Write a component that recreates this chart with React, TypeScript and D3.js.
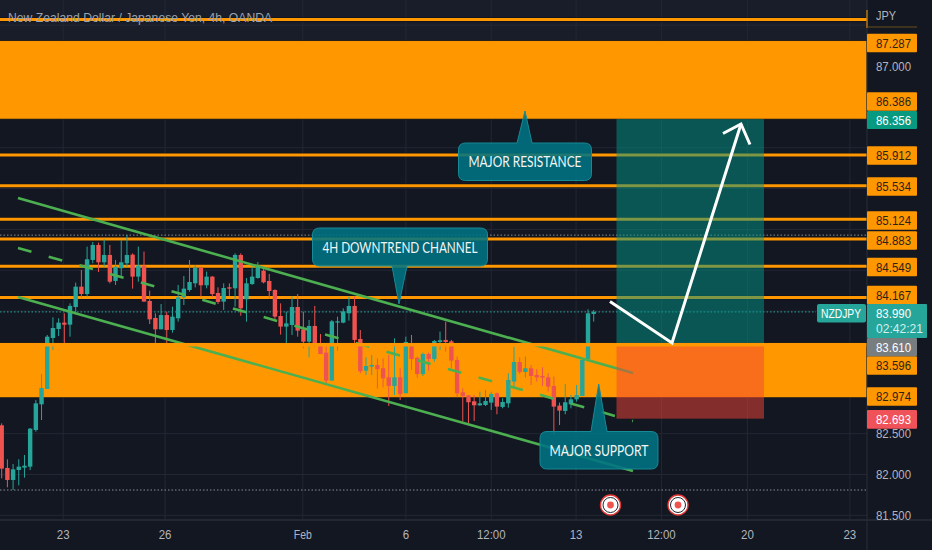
import React from 'react';
import * as d3 from 'd3';

const W = 932, H = 550, AX = 867, AY = 520;
const candles: number[][] = [
[82.602,82.626,81.953,82.072],[82.08,82.186,81.843,81.933],[81.933,82.129,81.81,82.063],[82.055,82.186,81.868,82.096],[82.084,82.239,81.961,82.108],
[82.096,82.569,82.055,82.561],[82.545,82.912,82.524,82.871],[82.859,83.23,82.667,83.059],[83.047,83.708,83.047,83.687],[83.671,83.924,83.524,83.793],
[83.781,83.912,83.695,83.859],[83.859,83.973,83.606,83.834],[83.834,84.095,83.687,84.063],[84.05,84.348,83.981,84.299],[84.299,84.503,84.169,84.209],
[84.209,84.789,84.177,84.634],[84.626,84.846,84.585,84.809],[84.809,84.838,84.479,84.597],[84.597,84.879,84.544,84.687],[84.687,84.809,84.34,84.36],
[84.369,84.626,84.32,84.544],[84.524,84.87,84.43,84.597],[84.585,84.932,84.544,84.687],[84.691,84.707,84.275,84.422],[84.422,84.789,84.36,84.556],
[84.556,84.728,84.116,84.116],[84.124,84.25,83.842,83.899],[83.916,83.973,83.606,83.777],[83.777,84.087,83.777,83.952],[83.952,83.993,83.606,83.769],
[83.769,84.054,83.736,83.932],[83.912,84.32,83.871,84.169],[84.169,84.43,84.075,84.275],[84.258,84.626,84.238,84.356],[84.34,84.564,84.291,84.532],
[84.528,84.544,84.177,84.316],[84.316,84.483,84.279,84.422],[84.422,84.43,84.169,84.209],[84.222,84.291,84.087,84.112],[84.116,84.34,84.014,84.283],
[84.291,84.34,84.185,84.275],[84.279,84.707,84.054,84.687],[84.687,84.707,83.944,84.034],[84.144,84.405,83.871,84.34],[84.332,84.544,84.32,84.422],
[84.405,84.601,84.397,84.544],[84.495,84.524,84.34,84.352],[84.369,84.454,84.156,84.246],[84.258,84.267,83.899,83.932],[83.94,84.095,83.712,83.81],
[83.81,83.993,83.606,83.85],[83.83,84.177,83.708,84.05],[84.05,84.209,83.687,83.761],[83.777,83.993,83.545,83.626],[83.626,83.891,83.434,83.818],
[83.818,84.063,83.565,83.606],[83.585,83.72,83.475,83.475],[83.492,83.585,83.116,83.149],[83.149,83.891,83.149,83.875],[83.859,83.932,83.516,83.875],
[83.859,84.034,83.851,83.997],[83.973,84.177,83.883,84.063],[84.063,84.177,83.606,83.647],[83.659,83.769,83.239,83.263],[83.271,83.434,83.218,83.328],
[83.32,83.463,83.218,83.341],[83.341,83.422,83.051,83.288],[83.3,83.422,83.067,83.177],[83.19,83.463,82.839,83.084],[83.084,83.667,82.973,83.19],
[83.19,83.3,82.912,82.986],[82.994,83.687,82.994,83.622],[83.573,83.708,83.279,83.414],[83.43,83.443,83.186,83.23],[83.23,83.492,83.206,83.475],
[83.475,83.492,83.271,83.414],[83.414,83.647,83.381,83.634],[83.622,83.749,83.524,83.643],[83.647,83.871,83.504,83.622],[83.63,83.647,83.3,83.394],
[83.402,83.443,82.945,82.994],[83.006,83.055,82.647,82.961],[82.969,82.973,82.627,82.884],[82.896,82.973,82.655,82.847],[82.847,83.014,82.839,82.871],
[82.851,83.035,82.839,82.9],[82.88,83.014,82.79,82.986],[82.994,83.002,82.737,82.831],[82.827,82.933,82.81,82.888],[82.871,83.239,82.818,83.157],
[83.137,83.565,83.055,83.377],[83.377,83.434,83.23,83.255],[83.255,83.443,83.186,83.3],[83.3,83.341,83.096,83.206],[83.218,83.288,83.137,83.19],
[83.206,83.312,83.084,83.186],[83.19,83.239,83.014,83.075],[83.084,83.198,82.484,82.831],[82.843,82.88,82.606,82.782],[82.778,83.108,82.737,82.884],
[82.859,82.973,82.81,82.92],[82.92,83.096,82.892,82.973],[82.961,83.402,82.961,83.402],[83.41,84.022,83.41,83.973],[83.965,84.014,83.871,83.99],
];
const priceTicks = [87.5, 87, 86.5, 86, 85.5, 85, 84.5, 84, 83.5, 83, 82.5, 82, 81.5];
const shownPriceLabels = [87, 82.5, 82, 81.5];
const timeTicks: [number, string][] = [[10.8,'23'],[28.7,'26'],[52.9,'Feb'],[71,'6'],[86,'12:00'],[100.9,'13'],[115.9,'12:00'],[131,'20'],[149,'23']];
const levelLines = [87.57, 85.912, 85.534, 85.124, 84.883, 84.549, 84.167];
const zones: [number, number][] = [[87.31, 86.35], [83.61, 82.94]];
const levelLabels: [string, number][] = [['87.287',43],['86.386',101.5],['85.912',155.5],['85.534',186.5],['85.124',220.5],['84.883',240.5],['84.549',267],['84.167',295],['83.596',365.5],['82.974',396.5]];
const dotted = [84.93, 81.81];
const lastPrice = 83.99;
const channels: [number, number, number, number][] = [[2.86, 85.384, 110.9, 83.242],[2.86, 84.173, 110.9, 82.043]];
const midChannel: [number, number, number, number] = [2.86, 84.772, 110.9, 82.655];

const y = d3.scaleLinear().domain([87, 81.5]).range([66, 515.35]);
const x = d3.scaleLinear().domain([0, 104]).range([1.7, 593.7]);
const UP = '#26a69a', DOWN = '#ef5350', OR = '#ff9800', BG = '#131722', GRID = '#232734';
const FONT = "'Liberation Sans', Arial, sans-serif";
const AFS = 13;

const tw = (s: string) => {
  if (s === 'NZDJPY') return 40;
  if (s === 'JPY') return 20;
  if (s === 'Feb') return 18;
  if (s.length === 8) return 47;
  return Array.from(s).reduce((a, c) => a + (c === '.' || c === ':' ? 3 : 6.4), 0);
};
function AT({ x: tx, y: ty, t, fill, anchor }: any) {
  return <text x={tx} y={ty} fill={fill} fontFamily={FONT} fontSize={AFS} textAnchor={anchor} textLength={tw(t)} lengthAdjust="spacingAndGlyphs">{t}</text>;
}

function Callout({ x0, y0, w, h, tipX, tipY, b0, b1, label, tl }: any) {
  const r = 7;
  const up = tipY < y0;
  const d = up
    ? `M${x0 + r},${y0}L${b0},${y0}L${tipX},${tipY}L${b1},${y0}L${x0 + w - r},${y0}Q${x0 + w},${y0} ${x0 + w},${y0 + r}L${x0 + w},${y0 + h - r}Q${x0 + w},${y0 + h} ${x0 + w - r},${y0 + h}L${x0 + r},${y0 + h}Q${x0},${y0 + h} ${x0},${y0 + h - r}L${x0},${y0 + r}Q${x0},${y0} ${x0 + r},${y0}Z`
    : `M${x0 + r},${y0}L${x0 + w - r},${y0}Q${x0 + w},${y0} ${x0 + w},${y0 + r}L${x0 + w},${y0 + h - r}Q${x0 + w},${y0 + h} ${x0 + w - r},${y0 + h}L${b1},${y0 + h}L${tipX},${tipY}L${b0},${y0 + h}L${x0 + r},${y0 + h}Q${x0},${y0 + h} ${x0},${y0 + h - r}L${x0},${y0 + r}Q${x0},${y0} ${x0 + r},${y0}Z`;
  return (
    <g>
      <path d={d} fill="rgba(0,115,130,0.88)" stroke="#168a96" strokeWidth={1} />
      <text x={x0 + w / 2} y={y0 + h / 2 + 5.5} textAnchor="middle" fontFamily="Lato, sans-serif" fontSize={15} fill="#f2f5f5" textLength={tl} lengthAdjust="spacingAndGlyphs">{label}</text>
    </g>
  );
}

export default function App() {
  const axisTag = (cy: number, h: number, fill: string) => <rect x={AX} y={cy - h / 2} width={50} height={h} fill={fill} rx={1} />;
  const line = d3.line<[number, number]>().x(d => x(d[0])).y(d => y(d[1]));
  return (
    <svg width={W} height={H} viewBox={`0 0 ${W} ${H}`} style={{ position: 'fixed', left: 0, top: 0, display: 'block' }}>
      <defs>
        <clipPath id="pane"><rect x={0} y={0} width={AX} height={AY} /></clipPath>
        <clipPath id="axisClip"><rect x={AX} y={0} width={W - AX} height={AY} /></clipPath>
      </defs>
      <rect width={W} height={H} fill={BG} />
      <rect width={AX} height={40} fill="#191d2a" />
      <g stroke={GRID} strokeWidth={1}>
        {priceTicks.map(t => <line key={t} x1={0} x2={AX} y1={y(t)} y2={y(t)} />)}
        {timeTicks.map(([i, l]) => <line key={l + i} x1={x(i)} x2={x(i)} y1={0} y2={AY} />)}
      </g>
      <g clipPath="url(#pane)">
        {dotted.map(p => <line key={p} x1={0} x2={AX} y1={y(p)} y2={y(p)} stroke="#b2b5be" strokeWidth={1} strokeDasharray="1.5 2" opacity={0.75} />)}
        <line x1={0} x2={816} y1={y(lastPrice)} y2={y(lastPrice)} stroke={UP} strokeWidth={1} strokeDasharray="1.5 2" />
        {zones.map(([a, b]) => <rect key={a} x={-3} width={AX + 3} y={y(a)} height={y(b) - y(a)} fill={OR} stroke="#10131c" strokeWidth={0.7} />)}
        {levelLines.map(p => (
          <g key={p}>
            <line x1={0} x2={AX} y1={y(p)} y2={y(p)} stroke="#0e1018" strokeWidth={4.4} opacity={0.7} />
            <line x1={0} x2={AX} y1={y(p)} y2={y(p)} stroke={OR} strokeWidth={3} />
          </g>
        ))}
        {candles.map(([o, h, l, c], i) => {
          const col = c >= o ? UP : DOWN;
          const top = y(Math.max(o, c)), bot = y(Math.min(o, c));
          return (
            <g key={i}>
              <line x1={x(i)} x2={x(i)} y1={y(h)} y2={y(l)} stroke={col} strokeWidth={1} />
              <rect x={x(i) - 2.2} width={4.4} y={top} height={Math.max(1.2, bot - top)} fill={col} />
            </g>
          );
        })}
        {channels.map((c, i) => <path key={i} d={line([[c[0], c[1]], [c[2], c[3]]])!} stroke="#4caf50" strokeWidth={2.6} fill="none" />)}
        <path d={line([[midChannel[0], midChannel[1]], [midChannel[2], midChannel[3]]])!} stroke="#4caf50" strokeWidth={2.6} fill="none" strokeDasharray="14 17.9" />
        <rect x={616.5} width={147.5} y={y(86.35)} height={y(83.61) - y(86.35)} fill="rgba(0,150,136,0.5)" />
        <rect x={616.5} width={147.5} y={y(83.61)} height={y(82.693) - y(83.61) + 0.8} fill="rgba(244,67,54,0.5)" />
        <rect x={0} width={AX} y={y(zones[1][0])} height={3.5} fill={OR} />
        <polyline points="610,301.5 672,343 741,124" fill="none" stroke="#fff" strokeWidth={3} />
        <polyline points="723,133.5 741,124 750,144.5" fill="none" stroke="#fff" strokeWidth={3} />
        <Callout x0={458.5} y0={143} w={133} h={37.5} tipX={525} tipY={111} b0={517} b1={532} label="MAJOR RESISTANCE" tl={113} />
        <Callout x0={312.5} y0={228} w={175} h={38} tipX={399} tipY={304} b0={392} b1={407} label="4H DOWNTREND CHANNEL" tl={155} />
        <Callout x0={540} y0={431.5} w={118} h={37.5} tipX={598.7} tipY={384} b0={591} b1={607} label="MAJOR SUPPORT" tl={99} />
        {[610.5, 678].map(cx => (
          <g key={cx}>
            <circle cx={cx} cy={505} r={10} fill="#fff" stroke="#e53935" strokeWidth={1.4} />
            <circle cx={cx} cy={505} r={7.5} fill="#fff" stroke="#20242f" strokeWidth={1} />
            <circle cx={cx} cy={505} r={3.4} fill="#ef5350" />
          </g>
        ))}
      </g>
      <text x={8} y={22} fontFamily={FONT} fontSize={12.2} fill="#9aa3ad">New Zealand Dollar / Japanese Yen, 4h, OANDA</text>
      <line x1={AX} x2={AX} y1={0} y2={H} stroke="#2a2e39" />
      <line x1={0} x2={W} y1={AY} y2={AY} stroke="#2a2e39" strokeWidth={1.5} />
      <line x1={AX} x2={AX} y1={10} y2={28} stroke={OR} strokeWidth={1} />
      <g clipPath="url(#axisClip)">
        {shownPriceLabels.map(t => <AT key={t} x={876} y={y(t) + 4.7} t={t.toFixed(3)} fill="#b2b5be" />)}
        <line x1={AX} x2={917} y1={27} y2={27} stroke="#6b4e1a" />
        {levelLabels.map(([t, cy]) => (
          <g key={t}>
            {axisTag(cy, 18.6, OR)}
            <AT x={876} y={cy + 4.7} t={t} fill="#2a2417" />
          </g>
        ))}
        {axisTag(120, 18, '#089981')}
        <AT x={876} y={124.7} t="86.356" fill="#fff" />
        <rect x={AX} y={338} width={50} height={18.3} fill="#787d80" rx={1} />
        <AT x={876} y={352} t="83.610" fill="#fff" />
        <rect x={AX} y={410} width={50} height={18.7} fill="#f0525a" rx={1} />
        <AT x={876} y={424} t="82.693" fill="#fff" />
      </g>
      <rect x={AX} y={304} width={60} height={34} fill={UP} rx={1} />
      <AT x={876} y={318} t="83.990" fill="#fff" />
      <AT x={876} y={333} t="02:42:21" fill="#d4efec" />
      <rect x={817} y={304} width={49} height={18.5} fill={UP} rx={2} />
      <AT x={821} y={318} t="NZDJPY" fill="#fff" />
      <AT x={876} y={20} t="JPY" fill="#b2b5be" />
      {timeTicks.map(([i, l]) => <AT key={l + i} x={x(i)} y={539} anchor="middle" t={l} fill="#b2b5be" />)}
    </svg>
  );
}
